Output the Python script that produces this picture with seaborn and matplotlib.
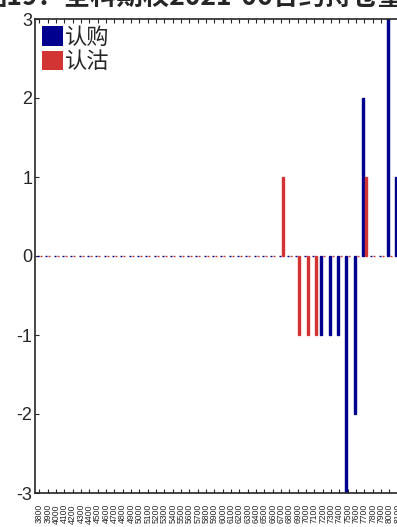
import numpy as np
import pandas as pd
import matplotlib
matplotlib.use("Agg")
import matplotlib.pyplot as plt
import seaborn as sns

# strike labels (only the last digits are visible in the reference)
strikes = [str(3800 + 100 * i) for i in range(44)]

# change in open interest per strike
call_oi = [0] * 44
put_oi = [0] * 44
call_changes = {34: -1, 35: -1, 36: -1, 37: -3, 38: -2, 39: 2, 42: 3, 43: 1}
put_changes = {29: 1, 31: -1, 32: -1, 33: -1, 39: 1}
for k, v in call_changes.items():
    call_oi[k] = v
for k, v in put_changes.items():
    put_oi[k] = v

series = ["认购", "认沽"]
colors = ["#00008e", "#d23434"]

df = pd.DataFrame({
    "strike": strikes * 2,
    "change": call_oi + put_oi,
    "type": [series[0]] * 44 + [series[1]] * 44,
})

sns.set_style("ticks")
plt.rcParams["font.family"] = ["Liberation Sans", "Noto Sans CJK SC", "DejaVu Sans"]
plt.rcParams["axes.unicode_minus"] = False
plt.rcParams["xtick.direction"] = "in"
plt.rcParams["ytick.direction"] = "in"

fig = plt.figure(figsize=(3.97, 5.27), dpi=100)
ax = fig.add_axes([35.3 / 397, 1 - 493 / 527, (401.9 - 35.3) / 397, (493 - 19) / 527])

sns.barplot(data=df, x="strike", y="change", hue="type", order=strikes,
            hue_order=series, palette=colors, width=0.7, gap=0.3,
            saturation=1, ax=ax)

# thin edge in the bar colour so zero-height bars show as dashes on the axis
for p in ax.patches:
    p.set_edgecolor(p.get_facecolor())
    p.set_linewidth(1.0)

ax.set_ylim(-3, 3)
ax.set_yticks(range(-3, 4))
ax.set_xlabel("")
ax.set_ylabel("")
ax.tick_params(axis="y", labelsize=13, length=3, pad=2)
ax.tick_params(axis="x", labelsize=6.2, rotation=90, length=3, top=True, pad=8)
for s in ax.spines.values():
    s.set_linewidth(1.2)

ax.set_title("图19：全科期权2021-06合约持仓量变化", fontsize=19, fontweight="bold",
             family=["Noto Sans CJK SC", "DejaVu Sans"], pad=10)

handles, labels = ax.get_legend_handles_labels()
for h in handles:
    h.set_edgecolor("none")
ax.legend(handles, labels, loc="upper left", frameon=False,
          prop={"family": ["Noto Sans CJK SC", "DejaVu Sans"], "size": 16},
          handlelength=0.95, handleheight=0.95, handletextpad=0.1,
          labelspacing=0.05, borderaxespad=0.2, borderpad=0.1)

fig.savefig("out.png", dpi=100)
